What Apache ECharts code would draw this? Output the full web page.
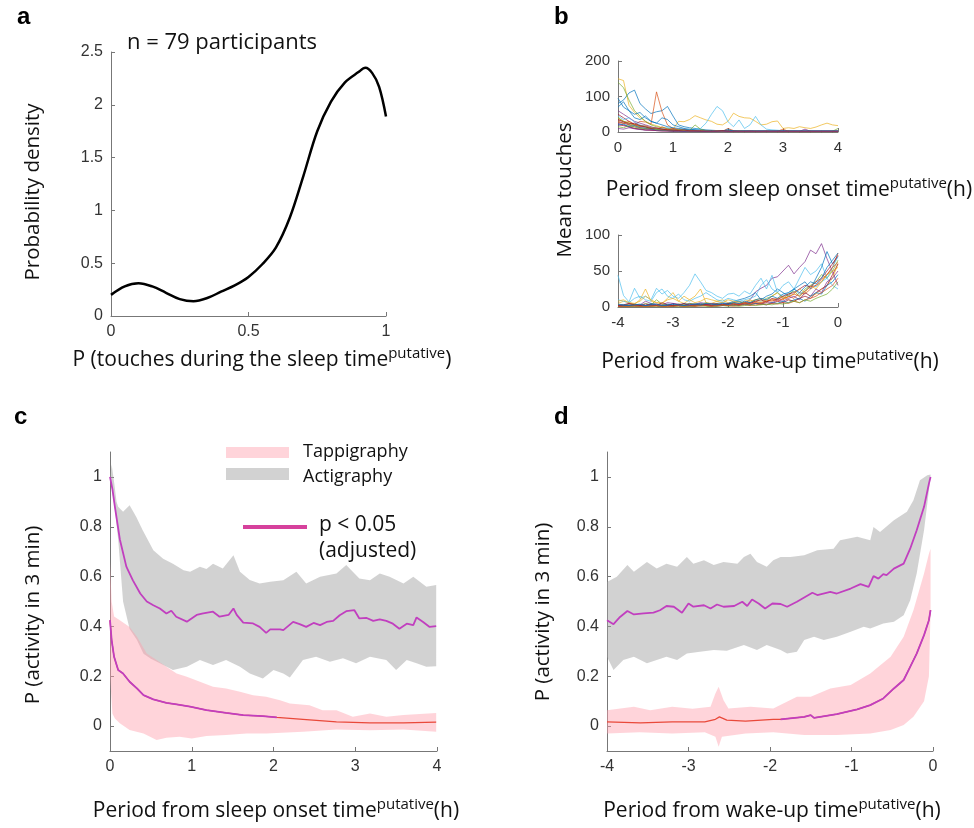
<!DOCTYPE html>
<html><head><meta charset="utf-8">
<script src="https://cdn.jsdelivr.net/npm/echarts@6/dist/echarts.min.js"></script>
<style>html,body{margin:0;padding:0;background:#fff}#c{width:974px;height:828px}</style>
</head><body><div id="c"></div>
<script>
// ---------- Panel a: probability density ----------
const aX = [0, 0.05, 0.1, 0.15, 0.2, 0.25, 0.3, 0.35, 0.4, 0.45, 0.5, 0.55, 0.6, 0.65, 0.7, 0.75, 0.8, 0.85, 0.9, 0.925, 0.95, 0.975, 1.0];
const aY = [0.2, 0.28, 0.31, 0.28, 0.22, 0.16, 0.14, 0.17, 0.23, 0.29, 0.37, 0.49, 0.65, 0.93, 1.33, 1.75, 2.03, 2.21, 2.31, 2.35, 2.3, 2.17, 1.89];

// ---------- Panel b: per-participant mean touches ----------
const bTopX = [0,0.1,0.2,0.3,0.4,0.5,0.6,0.7,0.8,0.9,1.0,1.1,1.2,1.3,1.4,1.5,1.6,1.7,1.8,1.9,2.0,2.1,2.2,2.3,2.4,2.5,2.6,2.7,2.8,2.9,3.0,3.1,3.2,3.3,3.4,3.5,3.6,3.7,3.8,3.9,4.0];
const bTop1 = [150,145,75,55,40,30,22,18,12,10,8,6,5,4,3,3,2,2,2,1,1,1,1,1,1,1,1,1,1,1,1,1,1,1,1,1,1,1,1,1,1];
const bTop2 = [40,30,25,20,15,12,10,8,6,5,8,30,29,35,46,40,34,30,22,20,30,53,44,40,39,30,20,22,29,31,10,12,10,15,12,10,14,20,25,20,18];
const bTop3 = [80,90,110,118,80,65,52,57,60,72,45,20,15,12,10,8,6,5,4,3,2,2,1,1,1,1,1,1,1,1,1,1,1,1,1,1,1,1,1,1,1];
const bTop4 = [30,25,20,18,15,12,10,10,8,6,8,6,5,4,8,10,25,50,72,60,29,15,34,10,20,44,20,8,6,5,4,3,3,2,2,2,1,1,1,1,1];
const bTop5 = [35,30,25,20,30,28,22,113,57,20,10,8,6,5,4,4,3,3,2,2,2,2,1,1,1,1,1,1,1,1,1,1,1,1,1,1,1,1,1,1,1];
const bTop6 = [140,125,90,60,45,30,20,15,12,10,8,7,6,5,5,4,4,3,3,3,2,2,2,2,2,2,2,2,2,2,1,1,1,1,1,1,1,1,1,1,1];
const bTop7 = [95,70,60,50,55,40,30,25,20,15,12,10,8,6,5,5,4,4,3,3,3,3,2,2,2,2,2,2,2,2,2,2,2,2,2,2,2,2,2,2,2];
const bTop8 = [60,50,40,30,25,20,15,10,8,5,5,4,4,3,3,3,2,2,2,2,2,2,2,2,3,2,2,2,2,2,2,2,2,2,8,2,2,2,2,2,2];
const bTop9 = [50,40,30,22,18,15,10,8,6,5,4,4,3,3,3,2,2,2,2,2,2,2,2,2,2,2,2,2,2,2,2,2,2,2,2,2,2,2,2,2,2];
const bTop10 = [45,35,40,28,20,15,12,10,8,12,6,5,5,4,4,3,3,3,2,2,2,2,2,2,2,2,2,2,2,2,2,2,2,2,2,2,2,2,2,2,2];
const bTop11 = [30,25,20,15,12,10,8,6,15,8,6,5,4,4,3,3,3,2,2,2,10,4,2,2,2,2,2,2,2,2,8,2,2,2,2,2,2,2,2,2,2];
const bTop12 = [40,30,25,20,18,15,10,8,7,6,5,5,4,4,20,8,4,3,3,3,3,3,3,3,2,2,2,2,2,2,2,2,2,2,2,2,2,2,2,2,10];
const bTop13 = [25,20,15,10,8,6,5,4,4,3,3,3,2,2,2,2,2,2,2,2,2,2,2,2,2,2,2,2,2,2,2,2,2,2,2,2,2,2,2,2,2];
const bTop14 = [20,18,14,10,8,6,5,4,3,3,2,2,2,2,2,2,2,2,2,2,2,2,2,2,2,2,2,2,2,2,2,2,2,2,2,2,2,2,2,2,2];
const bTop15 = [20,22,15,18,12,10,8,6,5,4,3,3,2,2,2,2,2,2,2,2,8,2,2,2,2,2,2,2,2,2,2,2,2,2,2,2,2,2,2,2,2];
const bTop16 = [70,85,60,40,35,45,30,25,40,35,20,15,10,8,6,5,4,4,3,3,3,3,3,3,3,3,3,3,3,3,3,3,3,3,3,3,3,3,3,3,3];
const bTop17 = [28,24,30,20,15,18,12,10,8,6,10,5,4,3,3,4,2,2,3,2,2,1,2,1,2,1,1,2,1,1,1,2,1,1,1,1,1,1,1,1,1];
const bTop18 = [15,12,18,14,10,8,12,6,5,4,3,3,4,2,2,2,3,2,2,2,1,1,1,1,1,2,1,1,1,1,1,1,1,1,1,1,1,1,1,1,1];
const bTop19 = [35,28,22,25,18,14,10,12,8,6,5,4,6,3,3,2,2,2,2,4,2,2,2,2,2,2,2,2,2,2,2,2,2,2,2,2,2,2,2,2,2];
const bTop20 = [10,8,12,9,7,5,6,4,3,3,2,2,2,2,2,2,2,2,2,2,1,1,1,1,1,1,1,1,1,1,1,1,1,1,1,1,1,1,1,1,1];

const bBotX = [-4,-3.9,-3.8,-3.7,-3.6,-3.5,-3.4,-3.3,-3.2,-3.1,-3.0,-2.9,-2.8,-2.7,-2.6,-2.5,-2.4,-2.3,-2.2,-2.1,-2.0,-1.9,-1.8,-1.7,-1.6,-1.5,-1.4,-1.3,-1.2,-1.1,-1.0,-0.9,-0.8,-0.7,-0.6,-0.5,-0.4,-0.3,-0.2,-0.1,0];
const bBot1 = [3,2,5,4,3,8,5,4,3,6,5,4,3,5,4,6,5,4,3,5,4,6,8,5,10,21,26,30,40,42,50,58,46,55,63,79,74,88,67,49,30];
const bBot2 = [44,16,7,26,12,15,10,26,18,23,15,12,20,30,46,35,23,20,15,12,18,19,15,22,18,30,40,25,44,20,30,35,25,40,55,45,50,60,40,30,25];
const bBot3 = [5,8,6,4,10,25,8,6,5,12,20,8,5,10,15,25,6,5,8,10,6,5,4,8,10,6,5,8,10,12,15,10,8,12,20,15,18,25,30,40,60];
const bBot4 = [2,3,2,4,3,2,5,3,2,4,3,2,5,3,4,5,3,4,5,6,5,8,10,12,15,20,10,15,18,25,20,15,25,30,35,25,40,55,77,60,70];
const bBot5 = [1,2,1,3,2,1,2,3,2,1,2,3,2,3,2,3,4,3,2,3,4,5,4,6,5,8,6,10,8,12,10,15,12,20,18,25,30,35,45,55,75];
const bBot6 = [3,2,4,3,2,5,3,10,4,3,2,4,3,5,4,3,6,4,5,3,4,6,8,5,6,10,8,12,15,20,12,18,22,15,25,30,35,45,40,50,65];
const bBot7 = [10,8,6,12,15,10,8,20,25,15,12,18,10,8,12,15,20,15,10,8,12,10,8,10,12,15,30,38,25,20,15,20,25,18,22,30,28,35,40,55,70];
const bBot8 = [1,1,2,1,2,1,1,2,1,2,1,2,1,2,1,2,3,2,1,2,3,2,3,4,3,5,4,6,5,8,6,10,8,12,15,12,20,25,30,45,60];
const bBot9 = [2,1,3,2,1,2,3,2,1,2,5,3,2,4,3,2,3,5,4,3,2,3,5,4,6,5,4,8,6,10,8,12,15,10,20,15,25,20,35,40,50];
const bBot10 = [1,2,1,2,1,2,3,2,1,2,1,3,2,1,2,3,2,1,3,2,4,3,2,4,3,5,4,3,6,5,8,6,10,12,8,15,20,18,30,35,45];
const bBot11 = [0,1,0,1,0,1,2,1,0,1,2,1,0,1,2,1,2,1,2,3,2,1,2,3,2,3,4,3,5,4,6,5,8,6,10,12,15,20,25,30,40];
const bBot12 = [8,10,6,5,8,15,10,6,5,10,12,8,15,10,6,8,12,10,8,6,10,8,6,5,8,10,12,8,15,20,12,15,18,25,20,30,25,35,45,50,55];
const bBot13 = [0,0,1,0,1,0,1,0,1,0,1,0,1,0,1,2,1,0,1,2,1,2,1,2,3,2,3,4,3,5,4,6,8,6,10,8,12,15,18,25,35];
const bBot14 = [2,3,5,3,2,4,3,2,6,3,2,3,5,2,3,4,3,2,4,3,5,4,3,6,5,8,10,7,12,10,15,18,20,25,30,28,35,40,50,60,72];
const bBot15 = [1,0,1,2,1,0,1,2,1,0,1,2,1,2,1,3,2,1,2,3,2,4,3,5,4,6,5,8,10,8,12,14,18,15,22,28,30,38,45,55,62];
const bBot16 = [4,3,2,3,4,2,3,4,2,3,4,3,2,3,4,3,5,4,3,5,4,6,5,8,6,10,12,10,15,12,18,20,25,20,28,35,32,40,55,65,75];

// ---------- Panel c: from sleep onset ----------
const cActMean = [[0,1.0],[0.03,0.95],[0.06,0.88],[0.12,0.75],[0.2,0.64],[0.28,0.585],[0.37,0.532],[0.45,0.5],[0.53,0.485],[0.61,0.472],[0.69,0.452],[0.75,0.463],[0.81,0.439],[0.94,0.419],[1.06,0.446],[1.14,0.452],[1.26,0.459],[1.34,0.439],[1.45,0.446],[1.51,0.472],[1.55,0.446],[1.63,0.415],[1.75,0.412],[1.83,0.398],[1.91,0.374],[1.96,0.388],[2.08,0.388],[2.12,0.385],[2.24,0.418],[2.32,0.409],[2.40,0.398],[2.49,0.414],[2.57,0.405],[2.65,0.418],[2.73,0.422],[2.81,0.445],[2.89,0.461],[2.99,0.465],[3.05,0.432],[3.14,0.434],[3.22,0.422],[3.30,0.428],[3.38,0.422],[3.46,0.411],[3.54,0.391],[3.63,0.411],[3.71,0.405],[3.75,0.436],[3.83,0.418],[3.91,0.398],[3.99,0.401]];
const cActUpper = [[0,1.0],[0.02,1.05],[0.05,0.98],[0.08,0.9],[0.1,0.88],[0.16,0.86],[0.24,0.886],[0.32,0.84],[0.4,0.786],[0.53,0.706],[0.65,0.672],[0.77,0.652],[0.9,0.625],[0.98,0.619],[1.1,0.639],[1.18,0.63],[1.26,0.652],[1.38,0.632],[1.51,0.686],[1.59,0.619],[1.71,0.586],[1.83,0.572],[1.96,0.579],[2.12,0.585],[2.28,0.619],[2.40,0.572],[2.57,0.599],[2.77,0.612],[2.89,0.646],[2.97,0.619],[3.05,0.592],[3.18,0.585],[3.30,0.612],[3.42,0.599],[3.59,0.572],[3.71,0.599],[3.79,0.579],[3.87,0.559],[3.99,0.566]];
const cActLower = [[0,1.0],[0.06,0.87],[0.1,0.75],[0.16,0.5],[0.24,0.39],[0.33,0.345],[0.41,0.29],[0.5,0.27],[0.61,0.252],[0.77,0.225],[0.94,0.238],[1.1,0.265],[1.26,0.245],[1.42,0.265],[1.59,0.238],[1.71,0.211],[1.87,0.191],[2.0,0.225],[2.12,0.211],[2.2,0.195],[2.36,0.265],[2.52,0.278],[2.69,0.258],[2.85,0.272],[3.01,0.252],[3.18,0.278],[3.38,0.265],[3.50,0.225],[3.63,0.265],[3.75,0.252],[3.87,0.238],[3.99,0.24]];
const cTapMean = [[0,0.425],[0.02,0.345],[0.05,0.278],[0.1,0.225],[0.16,0.211],[0.24,0.178],[0.33,0.151],[0.41,0.124],[0.53,0.107],[0.69,0.093],[0.815,0.087],[0.98,0.078],[1.18,0.064],[1.42,0.053],[1.63,0.044],[1.87,0.04],[2.04,0.035],[2.36,0.027],[2.77,0.017],[3.18,0.013],[3.59,0.013],[3.99,0.016]];
const cTapUpper = [[0,0.66],[0.02,0.5],[0.05,0.44],[0.12,0.425],[0.24,0.398],[0.33,0.359],[0.45,0.291],[0.57,0.265],[0.69,0.238],[0.815,0.211],[0.94,0.198],[1.1,0.178],[1.26,0.158],[1.42,0.151],[1.59,0.138],[1.75,0.124],[1.91,0.118],[2.08,0.104],[2.2,0.091],[2.44,0.084],[2.6,0.064],[2.77,0.064],[2.97,0.037],[3.18,0.051],[3.38,0.037],[3.59,0.044],[3.79,0.048],[3.99,0.053]];
const cTapLower = [[0,0.2],[0.03,0.05],[0.06,0.03],[0.12,0.011],[0.24,-0.016],[0.41,-0.03],[0.57,-0.056],[0.69,-0.047],[0.85,-0.043],[1.0,-0.05],[1.18,-0.04],[1.42,-0.036],[1.67,-0.03],[1.91,-0.03],[2.36,-0.023],[2.77,-0.014],[3.18,-0.017],[3.59,-0.014],[3.99,-0.023]];
const cTapSigMaxX = 2.04;   // tappigraphy significant (p<0.05) up to here

// ---------- Panel d: to wake-up ----------
const dActMean = [[-4,0.425],[-3.92,0.409],[-3.84,0.438],[-3.75,0.462],[-3.67,0.448],[-3.55,0.452],[-3.43,0.455],[-3.35,0.465],[-3.27,0.482],[-3.18,0.479],[-3.08,0.455],[-3.0,0.492],[-2.94,0.479],[-2.81,0.485],[-2.73,0.472],[-2.65,0.488],[-2.57,0.479],[-2.44,0.482],[-2.34,0.499],[-2.28,0.482],[-2.22,0.508],[-2.14,0.492],[-2.06,0.472],[-1.97,0.492],[-1.87,0.49],[-1.79,0.479],[-1.67,0.499],[-1.48,0.535],[-1.42,0.526],[-1.26,0.539],[-1.18,0.532],[-1.01,0.552],[-0.89,0.57],[-0.79,0.559],[-0.73,0.602],[-0.67,0.592],[-0.61,0.61],[-0.57,0.606],[-0.48,0.632],[-0.36,0.652],[-0.28,0.712],[-0.2,0.786],[-0.11,0.88],[-0.05,0.973],[-0.03,1.0]];
const dActUpper = [[-4,0.578],[-3.88,0.599],[-3.75,0.646],[-3.67,0.619],[-3.51,0.659],[-3.39,0.632],[-3.27,0.652],[-3.14,0.639],[-3.02,0.679],[-2.94,0.652],[-2.81,0.666],[-2.69,0.646],[-2.57,0.659],[-2.40,0.652],[-2.32,0.679],[-2.24,0.692],[-2.16,0.659],[-2.04,0.639],[-1.96,0.666],[-1.87,0.679],[-1.75,0.679],[-1.58,0.686],[-1.42,0.706],[-1.22,0.712],[-1.14,0.746],[-0.93,0.76],[-0.77,0.746],[-0.73,0.799],[-0.65,0.779],[-0.48,0.826],[-0.32,0.86],[-0.24,0.906],[-0.16,0.987],[-0.07,1.007],[-0.03,1.01]];
const dActLower = [[-4,0.278],[-3.92,0.225],[-3.8,0.265],[-3.67,0.278],[-3.51,0.252],[-3.39,0.265],[-3.27,0.278],[-3.14,0.265],[-3.02,0.291],[-2.86,0.298],[-2.69,0.305],[-2.53,0.302],[-2.32,0.325],[-2.16,0.305],[-2.04,0.325],[-1.87,0.305],[-1.79,0.291],[-1.67,0.298],[-1.58,0.345],[-1.46,0.359],[-1.34,0.345],[-1.18,0.359],[-1.01,0.379],[-0.85,0.399],[-0.77,0.392],[-0.61,0.412],[-0.48,0.419],[-0.36,0.445],[-0.28,0.505],[-0.2,0.612],[-0.11,0.786],[-0.05,0.946],[-0.03,1.0]];
const dTapMean = [[-4,0.017],[-3.59,0.013],[-3.2,0.017],[-2.8,0.017],[-2.67,0.027],[-2.62,0.037],[-2.53,0.024],[-2.3,0.02],[-1.96,0.027],[-1.87,0.027],[-1.58,0.037],[-1.5,0.044],[-1.46,0.033],[-1.18,0.048],[-0.93,0.067],[-0.77,0.084],[-0.61,0.111],[-0.48,0.151],[-0.36,0.185],[-0.28,0.238],[-0.2,0.291],[-0.11,0.365],[-0.05,0.425],[-0.03,0.465]];
const dTapUpper = [[-4,0.064],[-3.67,0.078],[-3.47,0.064],[-3.2,0.078],[-2.95,0.07],[-2.73,0.078],[-2.67,0.131],[-2.63,0.158],[-2.57,0.104],[-2.51,0.071],[-2.24,0.078],[-1.96,0.071],[-1.67,0.118],[-1.5,0.118],[-1.26,0.151],[-1.01,0.165],[-0.77,0.211],[-0.52,0.278],[-0.36,0.359],[-0.24,0.465],[-0.11,0.612],[-0.05,0.692],[-0.03,0.712]];
const dTapLower = [[-4,-0.03],[-3.6,-0.025],[-3.2,-0.03],[-2.8,-0.025],[-2.67,-0.043],[-2.63,-0.083],[-2.59,-0.043],[-2.3,-0.03],[-1.96,-0.025],[-1.58,-0.036],[-1.18,-0.036],[-0.77,-0.03],[-0.52,-0.016],[-0.36,0.004],[-0.24,0.037],[-0.11,0.1],[-0.05,0.2],[-0.03,0.46]];
const dTapSigMinX = -1.87;  // tappigraphy significant from here on

const pTicks = [0, 0.2, 0.4, 0.6, 0.8, 1];

// ---------- styling ----------
const AXC = '#777';
const LBC = '#333';
const TICKFONT = 'Liberation Sans, Arial, sans-serif';
const TITLEFONT = 'Open Sans, sans-serif';
const PINK = 'rgba(255,160,172,0.45)';
const GRAY = 'rgba(160,160,160,0.47)';
const MAG = '#c13fbf';
const RED = '#e9493a';
const MATLAB = ['#0072BD','#D95319','#EDB120','#7E2F8E','#77AC30','#4DBEEE','#A2142F'];

function axis(gi, min, max, interval, fs, extra) {
  return Object.assign({
    type: 'value', gridIndex: gi, min, max, interval,
    axisLine: {show: true, onZero: false, lineStyle: {color: AXC, width: 1}},
    axisTick: {show: true, inside: true, length: 4, lineStyle: {color: AXC}},
    axisLabel: {color: LBC, fontSize: fs, fontFamily: TICKFONT, margin: 8},
    splitLine: {show: false}
  }, extra || {});
}

function band(gi, upper, lower, color) {
  return {
    type: 'custom', xAxisIndex: gi, yAxisIndex: gi, silent: true, clip: true, z: 1,
    data: [[upper[0][0], upper[0][1]]],
    renderItem: function (params, api) {
      const pts = upper.map(p => api.coord(p)).concat(lower.slice().reverse().map(p => api.coord(p)));
      return {type: 'polygon', shape: {points: pts}, style: {fill: color}};
    }
  };
}
function line(gi, data, color, width, z) {
  return {type: 'line', xAxisIndex: gi, yAxisIndex: gi, data, showSymbol: false, symbol: 'none',
    lineStyle: {color, width}, itemStyle: {color}, z: z || 3, silent: true, animation: false};
}

const series = [];
series.push(Object.assign(line(0, aX.map((x, i) => [x, aY[i]]), '#000', 2.5), {smooth: 0.35}));
const tops = [bTop1,bTop2,bTop3,bTop4,bTop5,bTop6,bTop7,bTop8,bTop9,bTop10,bTop11,bTop12,bTop13,bTop14,bTop15,bTop16,bTop17,bTop18,bTop19,bTop20];
const topCols = [2,2,0,5,1,4,0,3,6,5,1,4,3,6,0,0,1,4,6,3];
tops.forEach((arr, k) => series.push(line(1, bTopX.map((x, i) => [x, arr[i]]), MATLAB[topCols[k]], 0.7)));
const bots = [bBot1,bBot2,bBot3,bBot4,bBot5,bBot6,bBot7,bBot8,bBot9,bBot10,bBot11,bBot12,bBot13,bBot14,bBot15,bBot16];
const botCols = [3,5,2,0,1,4,5,6,3,0,1,2,4,6,1,0];
bots.forEach((arr, k) => series.push(line(2, bBotX.map((x, i) => [x, arr[i]]), MATLAB[botCols[k]], 0.7)));

series.push(band(3, cActUpper, cActLower, GRAY));
series.push(band(3, cTapUpper, cTapLower, PINK));
series.push(line(3, cTapMean, RED, 1.2, 4));
series.push(line(3, cTapMean.filter(p => p[0] <= cTapSigMaxX), MAG, 1.8, 5));
series.push(line(3, cActMean, MAG, 1.8, 5));

series.push(band(4, dActUpper, dActLower, GRAY));
series.push(band(4, dTapUpper, dTapLower, PINK));
series.push(line(4, dTapMean, RED, 1.2, 4));
series.push(line(4, dTapMean.filter(p => p[0] >= dTapSigMinX), MAG, 1.8, 5));
series.push(line(4, dActMean, MAG, 1.8, 5));

function txt(x, y, text, size, opts) {
  return Object.assign({type: 'text', x, y, silent: true, z: 100,
    style: Object.assign({text, fontSize: size, fontFamily: TITLEFONT, fill: '#111', align: 'left', verticalAlign: 'middle'}, (opts && opts.style) || {})},
    (opts && opts.el) || {});
}
function supTitle(x, y, main, sup, tail, size) {
  return {type: 'text', x, y, silent: true, z: 100,
    style: {text: '{m|' + main + '}{s|' + sup + '}{m|' + tail + '}', align: 'center', verticalAlign: 'middle',
      rich: {m: {fontSize: size, fontFamily: TITLEFONT, fill: '#111', lineHeight: size + 6},
             s: {fontSize: Math.round(size * 0.72), fontFamily: TITLEFONT, fill: '#111', verticalAlign: 'top', lineHeight: size + 6}}}};
}
function letter(x, y, t) {
  return {type: 'text', x, y, silent: true, z: 100,
    style: {text: t, fontSize: 24, fontWeight: 'bold', fontFamily: 'Liberation Sans, Arial, sans-serif', fill: '#000', align: 'left', verticalAlign: 'middle'}};
}

const XT = 21;   // x-axis title size
const YT = 20.5; // y-axis title size
const graphic = [
  letter(17, 17, 'a'), letter(554, 17, 'b'), letter(14, 417, 'c'), letter(554, 417, 'd'),
  txt(127, 43, 'n = 79 participants', 22),
  txt(33, 192, 'Probability density', YT, {el: {rotation: Math.PI / 2}, style: {align: 'center'}}),
  supTitle(262, 360, 'P (touches during the sleep time', 'putative', ')', XT),
  txt(565, 190, 'Mean touches', YT, {el: {rotation: Math.PI / 2}, style: {align: 'center'}}),
  supTitle(789, 190, 'Period from sleep onset time', 'putative', '(h)', XT),
  supTitle(770, 362, 'Period from wake-up time', 'putative', '(h)', XT),
  txt(33, 615, 'P (activity in 3 min)', YT, {el: {rotation: Math.PI / 2}, style: {align: 'center'}}),
  txt(543, 612, 'P (activity in 3 min)', YT, {el: {rotation: Math.PI / 2}, style: {align: 'center'}}),
  supTitle(276, 811, 'Period from sleep onset time', 'putative', '(h)', XT),
  supTitle(772, 811, 'Period from wake-up time', 'putative', '(h)', XT),
  {type: 'rect', shape: {x: 226, y: 447, width: 63, height: 11}, style: {fill: PINK}, silent: true, z: 100},
  {type: 'rect', shape: {x: 226, y: 468, width: 63, height: 12}, style: {fill: GRAY}, silent: true, z: 100},
  txt(303, 452, 'Tappigraphy', 18),
  txt(303, 477, 'Actigraphy', 18),
  {type: 'line', shape: {x1: 243, y1: 527, x2: 307, y2: 527}, style: {stroke: '#d6419c', lineWidth: 4}, silent: true, z: 100},
  txt(319, 525, 'p < 0.05', 21),
  txt(319, 551, '(adjusted)', 21)
];

const option = {
  animation: false,
  backgroundColor: '#fff',
  grid: [
    {left: 111, top: 52, width: 275, height: 264, outerBoundsMode: 'none'},
    {left: 618, top: 61, width: 220, height: 71, outerBoundsMode: 'none'},
    {left: 618, top: 235, width: 220, height: 72, outerBoundsMode: 'none'},
    {left: 110, top: 452, width: 327, height: 299, outerBoundsMode: 'none'},
    {left: 607, top: 452, width: 326, height: 299, outerBoundsMode: 'none'}
  ],
  xAxis: [
    axis(0, 0, 1, 0.5, 16),
    axis(1, 0, 4, 1, 15),
    axis(2, -4, 0, 1, 15),
    axis(3, 0, 4, 1, 16, {}),
    axis(4, -4, 0, 1, 16, {})
  ],
  yAxis: [
    axis(0, 0, 2.5, 0.5, 16),
    axis(1, 0, 200, 100, 15),
    axis(2, 0, 100, 50, 15),
    axis(3, -0.1, 1.1, null, 16),
    axis(4, -0.1, 1.1, null, 16)
  ],
  graphic,
  series
};
option.yAxis[3].axisLabel.customValues = pTicks;
option.yAxis[3].axisTick.customValues = pTicks;
option.yAxis[4].axisLabel.customValues = pTicks;
option.yAxis[4].axisTick.customValues = pTicks;
delete option.yAxis[3].interval;
delete option.yAxis[4].interval;

const chart = echarts.init(document.getElementById('c'), null, {renderer: 'canvas'});
chart.setOption(option);
</script></body></html>
